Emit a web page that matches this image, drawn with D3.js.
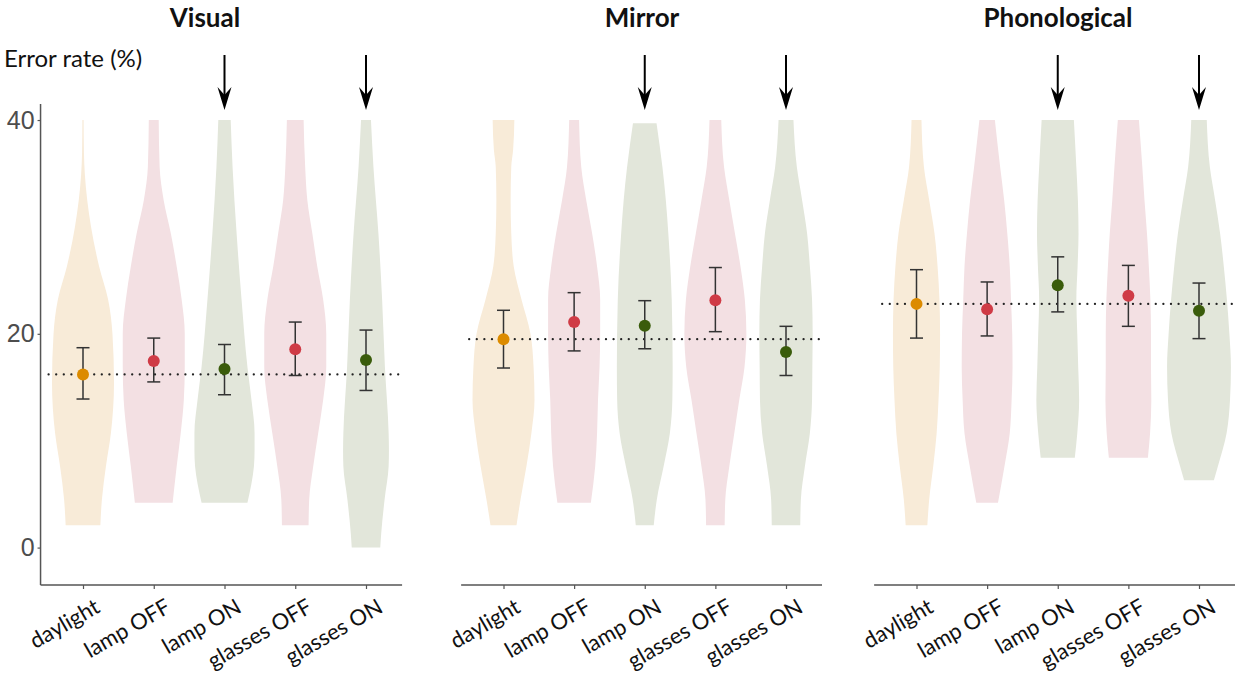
<!DOCTYPE html>
<html>
<head>
<meta charset="utf-8">
<script src="https://cdn.jsdelivr.net/npm/d3@7"></script>
<style>
  html, body { margin: 0; padding: 0; background: #fff; }
  svg { display: block; }
</style>
</head>
<body>
<svg id="chart" width="1235" height="684"></svg>
<script>
// ---------------- DATA ----------------
const conditions = ["daylight", "lamp OFF", "lamp ON", "glasses OFF", "glasses ON"];
const conditionGroup = ["day", "off", "on", "off", "on"];
const panelTitles = ["Visual", "Mirror", "Phonological"];
const yTicks = [0, 20, 40];
const arrowConditions = ["lamp ON", "glasses ON"];

// means and error-bar limits (error rate, %)
const visualMean = [16.2, 17.45, 16.7, 18.55, 17.55];
const visualLow  = [13.9, 15.5, 14.3, 16.1, 14.7];
const visualHigh = [18.7, 19.6, 19.0, 21.1, 20.35];
const visualRef = 16.2;

const mirrorMean = [19.5, 21.1, 20.75, 23.15, 18.3];
const mirrorLow  = [16.8, 18.4, 18.6, 20.2, 16.1];
const mirrorHigh = [22.2, 23.85, 23.1, 26.2, 20.7];
const mirrorRef = 19.5;

const phonoMean = [22.8, 22.3, 24.55, 23.55, 22.15];
const phonoLow  = [19.6, 19.8, 22.05, 20.7, 19.55];
const phonoHigh = [26.0, 24.85, 27.2, 26.4, 24.75];
const phonoRef = 22.8;

// violin density profiles: [error rate, relative density (0-100)]
const visualViolins = [
  [[2.1,56],[4.5,61],[7.6,74],[10.7,90],[15.4,100],[20,95],[23.2,81],[26.3,52],[30,26],[34.9,6],[37,3],[40,2]],
  [[4.2,61],[7.6,74],[10.7,87],[13.8,97],[16.9,100],[20,100],[23.2,90],[26.3,74],[29.4,55],[32.5,32],[35.6,19],[40,16]],
  [[4.2,74],[6.0,87],[7.6,95],[9.1,97],[10.7,97],[13.8,87],[16.9,74],[23.2,55],[29.4,39],[35.6,26],[40,20]],
  [[2.1,43],[4.5,45],[7.6,58],[10.7,74],[13.8,90],[16.9,100],[20,100],[23.2,90],[26.3,71],[29.4,55],[32.5,39],[35.6,32],[40,27]],
  [[0,46],[1.3,49],[4.5,60],[7.6,73],[9.1,74],[10.7,73],[16.9,61],[23.2,52],[29.4,40],[35.6,24],[40,16]]
];
const mirrorViolins = [
  [[2.1,42],[4.5,55],[7.6,74],[10.7,90],[13.8,100],[16.9,97],[20,87],[23.2,58],[26.3,33],[29.4,25],[32.5,23],[35.6,25],[37.2,31],[40,35]],
  [[4.2,54],[7.6,68],[10.7,74],[13.8,77],[16.9,82],[20,84],[23.2,84],[26.3,74],[29.4,58],[32.5,39],[35.6,23],[40,16]],
  [[2.1,29],[4.5,39],[7.6,61],[10.7,81],[13.8,89],[16.9,90],[23.2,87],[29.4,76],[32.5,68],[35.6,57],[39.7,38]],
  [[2.1,30],[4.5,32],[7.6,45],[10.7,61],[13.8,77],[16.9,94],[20,100],[23.2,95],[26.3,81],[29.4,63],[32.5,45],[35.6,28],[40,19]],
  [[2.1,46],[4.5,48],[7.6,61],[10.7,77],[13.8,84],[16.9,85],[20,86],[23.2,84],[26.3,77],[29.4,68],[32.5,52],[35.6,35],[40,24]]
];
const phonoViolins = [
  [[2.1,35],[4.5,41],[7.6,54],[10.7,65],[13.8,71],[16.9,75],[20,76],[23.2,74],[26.3,68],[29.4,58],[32.5,41],[35.6,24],[40,16]],
  [[4.2,35],[7.6,56],[10.7,73],[13.8,79],[16.9,82],[20,81],[23.2,77],[26.3,73],[29.4,65],[32.5,55],[35.6,42],[40,25]],
  [[8.4,55],[10.7,63],[13.8,69],[16.9,66],[20,63],[23.2,60],[26.3,64],[29.4,67],[32.5,65],[35.6,60],[40,52]],
  [[8.4,63],[10.7,70],[13.8,74],[16.9,73],[20,73],[23.2,71],[26.3,66],[29.4,60],[32.5,52],[35.6,45],[40,34]],
  [[6.3,48],[7.6,61],[10.7,89],[13.8,100],[16.9,103],[20,98],[23.2,90],[26.3,80],[29.4,68],[32.5,52],[35.6,35],[40,25]]
];

// ---------------- STYLE / LAYOUT ----------------
const panels = [
  { title: panelTitles[0], mean: visualMean, low: visualLow, high: visualHigh, ref: visualRef, violins: visualViolins,
    range: [83, 366], titleX: 205, yAxis: true },
  { title: panelTitles[1], mean: mirrorMean, low: mirrorLow, high: mirrorHigh, ref: mirrorRef, violins: mirrorViolins,
    range: [503.5, 786], titleX: 642, yAxis: false },
  { title: panelTitles[2], mean: phonoMean, low: phonoLow, high: phonoHigh, ref: phonoRef, violins: phonoViolins,
    range: [916.5, 1199], titleX: 1058, yAxis: false }
];

const fillColor = { day: "#F8EBD8", off: "#F3E0E3", on: "#E2E6DA" };
const dotColor  = { day: "#DC8B00", off: "#CF3B46", on: "#3A5C0B" };
const axisColor = "#555555";

const svg = d3.select("#chart");
const y = d3.scaleLinear().domain([-3.5, 41.5]).range([585, 104]);
const w = d3.scaleLinear().domain([0, 100]).range([0, 31]);

const font = "Lato, 'Open Sans', sans-serif";

// y-axis label
svg.append("text")
  .attr("x", 4).attr("y", 67)
  .attr("font-family", font).attr("font-size", 24).attr("fill", "#111")
  .text("Error rate (%)");

panels.forEach(p => {
  const x = d3.scalePoint().domain(conditions).range(p.range);
  const step = x.step();
  const left = x(conditions[0]) - 0.6 * step;
  const right = x(conditions[conditions.length - 1]) + 0.51 * step;
  const g = svg.append("g");

  // title
  g.append("text")
    .attr("x", p.titleX).attr("y", 27)
    .attr("text-anchor", "middle")
    .attr("font-family", font).attr("font-weight", "bold").attr("font-size", 26)
    .attr("fill", "#111")
    .text(p.title);

  // violins
  conditions.forEach((c, i) => {
    const cx = x(c);
    const area = d3.area()
      .y(d => y(d[0]))
      .x0(d => cx - w(d[1]))
      .x1(d => cx + w(d[1]))
      .curve(d3.curveMonotoneY);
    g.append("path")
      .datum(p.violins[i])
      .attr("d", area)
      .attr("fill", fillColor[conditionGroup[i]]);
  });

  // reference dotted line
  g.append("line")
    .attr("x1", left + 8).attr("x2", right)
    .attr("y1", y(p.ref)).attr("y2", y(p.ref))
    .attr("stroke", "#222").attr("stroke-width", 2.2)
    .attr("stroke-dasharray", "0.1 7.5")
    .attr("stroke-linecap", "round");

  // error bars
  conditions.forEach((c, i) => {
    const cx = x(c);
    const eb = g.append("g").attr("stroke", "#333").attr("stroke-width", 1.5).attr("fill", "none");
    eb.append("line").attr("x1", cx).attr("x2", cx).attr("y1", y(p.low[i])).attr("y2", y(p.high[i]));
    eb.append("line").attr("x1", cx - 6.5).attr("x2", cx + 6.5).attr("y1", y(p.low[i])).attr("y2", y(p.low[i]));
    eb.append("line").attr("x1", cx - 6.5).attr("x2", cx + 6.5).attr("y1", y(p.high[i])).attr("y2", y(p.high[i]));
  });

  // mean points
  g.selectAll("circle.mean")
    .data(conditions)
    .join("circle")
    .attr("class", "mean")
    .attr("cx", d => x(d))
    .attr("cy", (d, i) => y(p.mean[i]))
    .attr("r", 6)
    .attr("fill", (d, i) => dotColor[conditionGroup[i]]);

  // arrows
  arrowConditions.forEach(c => {
    const ax = x(c);
    g.append("line")
      .attr("x1", ax).attr("x2", ax).attr("y1", 55).attr("y2", 100)
      .attr("stroke", "#000").attr("stroke-width", 2);
    g.append("path")
      .attr("d", `M${ax},110 L${ax - 7},87 L${ax},95 L${ax + 7},87 Z`)
      .attr("fill", "#000");
  });

  // x axis
  const xAxisG = g.append("g").attr("transform", "translate(0,585)");
  xAxisG.append("line")
    .attr("x1", left).attr("x2", right).attr("y1", 0).attr("y2", 0)
    .attr("stroke", axisColor).attr("stroke-width", 1.5);
  const xAxis = d3.axisBottom(x).tickSize(4).tickSizeOuter(0).tickPadding(0);
  const xa = xAxisG.append("g").call(xAxis);
  xa.select(".domain").remove();
  xa.selectAll(".tick line").attr("stroke", axisColor).attr("stroke-width", 1.2);
  xa.selectAll(".tick text")
    .attr("font-family", font).attr("font-size", 22).attr("fill", "#111")
    .attr("text-anchor", "end")
    .attr("dy", null)
    .attr("transform", "translate(9,11) rotate(-30)")
    .attr("y", 0).attr("x", 0)
    .attr("dominant-baseline", "hanging");

  // y axis
  if (p.yAxis) {
    const yAxisG = g.append("g").attr("transform", `translate(${left},0)`);
    yAxisG.append("line")
      .attr("x1", 0).attr("x2", 0).attr("y1", y.range()[1]).attr("y2", y.range()[0])
      .attr("stroke", axisColor).attr("stroke-width", 1.5);
    const ya = yAxisG.append("g").call(d3.axisLeft(y).tickValues(yTicks).tickSize(3).tickSizeOuter(0).tickPadding(3));
    ya.select(".domain").remove();
    ya.selectAll(".tick line").attr("stroke", axisColor).attr("stroke-width", 1.2);
    ya.selectAll(".tick text")
      .attr("font-family", "'Liberation Sans', Arial, sans-serif")
      .attr("font-size", 25).attr("fill", "#4D4D4D");
  }
});
</script>
</body>
</html>
